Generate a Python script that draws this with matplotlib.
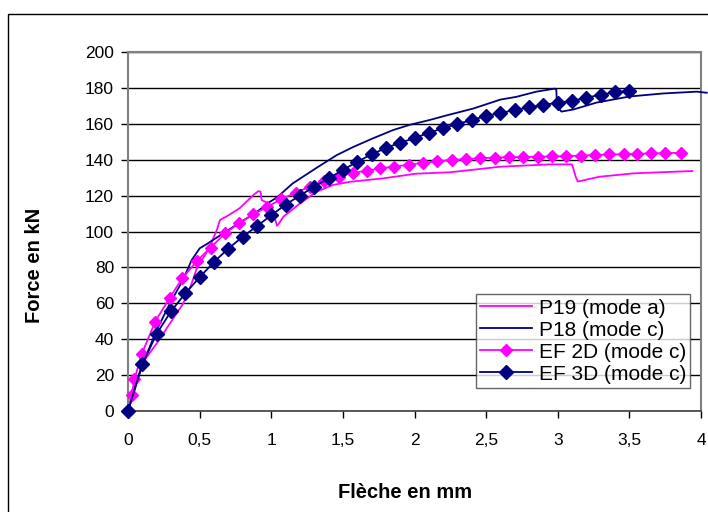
import matplotlib
matplotlib.use("Agg")
import matplotlib.pyplot as plt
from matplotlib.patches import Rectangle
from matplotlib.ticker import FuncFormatter

plt.rcParams['font.family'] = ['Liberation Sans', 'DejaVu Sans']

# P19 (mode a) - experimental
p19_x = [0, 0.04, 0.107, 0.2, 0.293, 0.386, 0.444, 0.48, 0.514, 0.56, 0.62, 0.642, 0.69,
         0.78, 0.875, 0.91, 0.925, 0.933, 0.96, 1.0, 1.03, 1.04, 1.05, 1.084, 1.2, 1.317,
         1.43, 1.55, 1.78, 2.01, 2.25, 2.6, 2.945, 3.1, 3.125, 3.14, 3.29, 3.53, 3.94]
p19_y = [0, 10, 27.5, 37.6, 48.8, 60, 71, 79.4, 84, 89.7, 100.8, 106.4, 108.5,
         113, 120.3, 122.5, 122.2, 117.5, 116.5, 112, 106, 103.2, 104, 108.2, 115.6, 122.2,
         125.9, 127.7, 129.6, 132.2, 133, 136.1, 137.4, 137.4, 130.5, 127.8, 130.5, 132.4, 133.7]

# P18 (mode c) - experimental
p18_x = [0, 0.05, 0.105, 0.2, 0.293, 0.384, 0.444, 0.50, 0.55, 0.665, 0.78, 0.898, 0.98,
         1.04, 1.15, 1.317, 1.456, 1.57, 1.71, 1.85, 1.97, 2.1, 2.22, 2.41, 2.6, 2.71,
         2.85, 2.98, 2.99, 2.995, 3.026, 3.11, 3.27, 3.5, 3.735, 3.97, 4.04]
p18_y = [0, 14, 26.7, 45, 60, 73, 84, 90.6, 93, 99, 104.9, 110.8, 116,
         119, 126.8, 135.5, 142.5, 147, 151.9, 156.5, 159.5, 162, 164.6, 168.5, 173.5, 175,
         177.9, 179.6, 179, 169.5, 166.8, 168, 171.8, 175.2, 176.9, 177.9, 177.3]

# EF 2D (mode c)
ef2d_x = [0, 0.025, 0.045, 0.095, 0.19, 0.29, 0.38, 0.48, 0.577, 0.677, 0.775, 0.875,
          0.968, 1.07, 1.17, 1.27, 1.37, 1.47, 1.57, 1.67, 1.76, 1.86, 1.96, 2.06, 2.16,
          2.265, 2.36, 2.46, 2.56, 2.66, 2.76, 2.86, 2.96, 3.06, 3.16, 3.26, 3.36, 3.46,
          3.55, 3.65, 3.75, 3.86]
ef2d_y = [0, 8.9, 17.6, 31.6, 49.8, 63, 74, 83.5, 91, 99, 104.5, 109.6,
          113.6, 118, 121.6, 125, 128.2, 130.5, 132.8, 133.8, 135.2, 136.2, 137.2, 138.3, 139,
          140, 140.3, 140.8, 141.2, 141.4, 141.5, 141.7, 141.8, 142, 142.3, 142.6, 142.9, 143,
          143.2, 143.5, 143.6, 143.9]

# EF 3D (mode c)
ef3d_x = [0, 0.1, 0.2, 0.3, 0.4, 0.5, 0.6, 0.7, 0.8, 0.9, 1.0, 1.1, 1.2, 1.3, 1.4, 1.5,
          1.6, 1.7, 1.8, 1.9, 2.0, 2.1, 2.2, 2.3, 2.4, 2.5, 2.6, 2.7, 2.8, 2.9, 3.0, 3.1,
          3.2, 3.3, 3.4, 3.5]
ef3d_y = [0, 26, 43, 55.5, 65.5, 74.5, 83, 90.5, 97, 103, 109, 115, 120, 125, 129.6, 134.3,
          138.8, 143, 146.5, 149.5, 152, 155, 157.5, 160, 162, 164.5, 166, 167.7, 169.2, 170.6,
          171.7, 172.8, 174.5, 176.3, 177.5, 178.5]

labels = ["P19 (mode a)", "P18 (mode c)", "EF 2D (mode c)", "EF 3D (mode c)"]
x_ticks = [0, 0.5, 1, 1.5, 2, 2.5, 3, 3.5, 4]
y_ticks = list(range(0, 201, 20))

MAGENTA = "#FF00FF"
NAVY = "#000080"

fig = plt.figure(figsize=(7.08, 5.12), dpi=100)
ax = fig.add_axes([128/708, 1-411/512, (701-128)/708, (411-52)/512])

# outer border of chart area
fig.patches.append(Rectangle((8/708, -0.1), 1.2, 1-14/512+0.1, transform=fig.transFigure,
                             fill=False, edgecolor='black', linewidth=1.0))

ax.plot(p19_x, p19_y, color=MAGENTA, lw=1.3, label=labels[0], zorder=3)
ax.plot(p18_x, p18_y, color=NAVY, lw=1.3, label=labels[1], zorder=3, clip_on=False)
ax.plot(ef2d_x, ef2d_y, color=MAGENTA, lw=1.3, marker='D', ms=6.5, mec=MAGENTA,
        label=labels[2], zorder=4, clip_on=False)
ax.plot(ef3d_x, ef3d_y, color=NAVY, lw=1.3, marker='D', ms=7, mec=NAVY,
        label=labels[3], zorder=5, clip_on=False)

ax.set_xlim(0, 4)
ax.set_ylim(0, 200)
ax.set_xticks(x_ticks)
ax.set_yticks(y_ticks)
ax.xaxis.set_major_formatter(FuncFormatter(lambda v, p: ('%g' % v).replace('.', ',')))
ax.yaxis.grid(True, color='black', lw=1.0)
ax.set_axisbelow(True)
for s in ['top', 'right', 'left']:
    ax.spines[s].set_color('#808080')
    ax.spines[s].set_linewidth(1.5)
ax.spines['bottom'].set_color('#404040')
ax.spines['bottom'].set_linewidth(1.2)
ax.tick_params(axis='both', direction='out', length=5, width=1, colors='black',
               labelsize=12.5)
ax.tick_params(axis='x', pad=11)
ax.tick_params(axis='y', pad=5)

ax.set_xlabel("Flèche en mm", fontsize=14.5, fontweight='bold')
ax.set_ylabel("Force en kN", fontsize=14.5, fontweight='bold')
ax.xaxis.label.set_va('center')
ax.yaxis.label.set_va('center')
ax.xaxis.set_label_coords((405-128)/573, (411-492)/359)
ax.yaxis.set_label_coords((35-128)/573, (411-265)/359)

leg = ax.legend(loc='lower right', bbox_to_anchor=(0.981, 0.064), fontsize=15,
                frameon=True, fancybox=False, handlelength=2.5, borderpad=0.2,
                labelspacing=0.1, handletextpad=0.3, borderaxespad=0,
                handleheight=0.9)
leg.get_frame().set_edgecolor('#404040')
leg.get_frame().set_linewidth(1.0)

fig.savefig("out.png", dpi=100)
